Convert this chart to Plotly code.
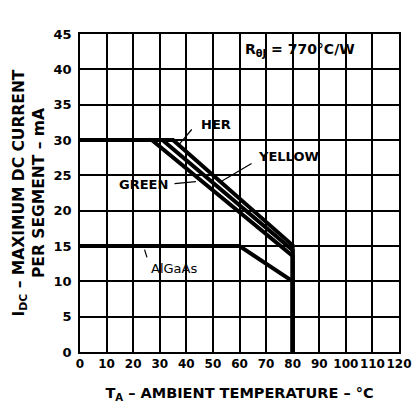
import plotly.graph_objects as go

# Data (ambient temperature °C vs max DC current per segment, mA)
her_t = [0, 35, 80, 80]
her_i = [30, 30, 15.1, 0]
yellow_t = [0, 31, 80, 80]
yellow_i = [30, 30, 14.4, 0]
green_t = [0, 27, 80, 80]
green_i = [30, 30, 13.6, 0]
algaas_t = [0, 60, 80, 80]
algaas_i = [15, 15, 10, 0]

x_ticks = [0, 10, 20, 30, 40, 50, 60, 70, 80, 90, 100, 110, 120]
y_ticks = [0, 5, 10, 15, 20, 25, 30, 35, 40, 45]

FONT = "DejaVu Sans"

fig = go.Figure()
for t, i, name in [(green_t, green_i, "GREEN"), (yellow_t, yellow_i, "YELLOW"),
                   (her_t, her_i, "HER"), (algaas_t, algaas_i, "AlGaAs")]:
    fig.add_trace(go.Scatter(x=t, y=i, mode="lines", name=name,
                             line=dict(color="black", width=4), showlegend=False))

ann_font = dict(family=FONT, size=13, color="black")
anns = [
    dict(text="<b>HER</b>", x=51.2, y=32.2, ax=42.5, ay=31.7, tx=36.9, ty=29.2),
    dict(text="<b>YELLOW</b>", x=78.3, y=27.6, ax=65.1, ay=26.8, tx=53.4, ty=24.2),
    dict(text="<b>GREEN</b>", x=23.7, y=23.7, ax=35.0, ay=23.8, tx=43.6, ty=24.1),
    dict(text="AlGaAs", x=35.4, y=11.8, ax=24.1, ay=14.7, tx=25.2, ty=13.4),
]
for a in anns:
    fig.add_annotation(x=a["x"], y=a["y"], text=a["text"], showarrow=False,
                       font=ann_font, xref="x", yref="y")
    fig.add_annotation(x=a["tx"], y=a["ty"], ax=a["ax"], ay=a["ay"],
                       axref="x", ayref="y", xref="x", yref="y", text="",
                       showarrow=True, arrowhead=0, arrowwidth=1.2, arrowcolor="black")

fig.add_annotation(x=61.5, y=42.8, xanchor="left", showarrow=False,
                   text="<b>R<sub>θJ</sub> = 770°C/W</b>",
                   font=dict(family=FONT, size=14, color="black"))

axis_common = dict(showgrid=True, gridcolor="black", gridwidth=1.5,
                   showline=True, linecolor="black", linewidth=1.5, mirror=True,
                   zeroline=False, ticks="", automargin=False)

fig.update_xaxes(range=[0, 120], tickvals=x_ticks,
                 ticktext=[f"<b>{v}</b>" for v in x_ticks],
                 tickangle=0,
                 tickfont=dict(family=FONT, size=12, color="black"),
                 title=dict(text="<b>T<sub>A</sub> – AMBIENT TEMPERATURE – °C</b>",
                            font=dict(family=FONT, size=14.5, color="black"), standoff=18),
                 **axis_common)
fig.update_yaxes(range=[0, 45], tickvals=y_ticks,
                 ticktext=[f"<b>{v}</b>" for v in y_ticks],
                 ticklabelstandoff=4,
                 tickfont=dict(family=FONT, size=13, color="black"),
                 title=dict(text="<b>I<sub>DC</sub> – MAXIMUM DC CURRENT<br>PER SEGMENT – mA</b>",
                            font=dict(family=FONT, size=15.5, color="black"), standoff=5),
                 **axis_common)

# page body has an 8px margin, so the figure is offset by 8px
fig.update_layout(width=412, height=402, margin=dict(l=72, r=21, t=26, b=58),
                  plot_bgcolor="white", paper_bgcolor="white",
                  font=dict(family=FONT, color="black"))

fig.write_html("out.html")
